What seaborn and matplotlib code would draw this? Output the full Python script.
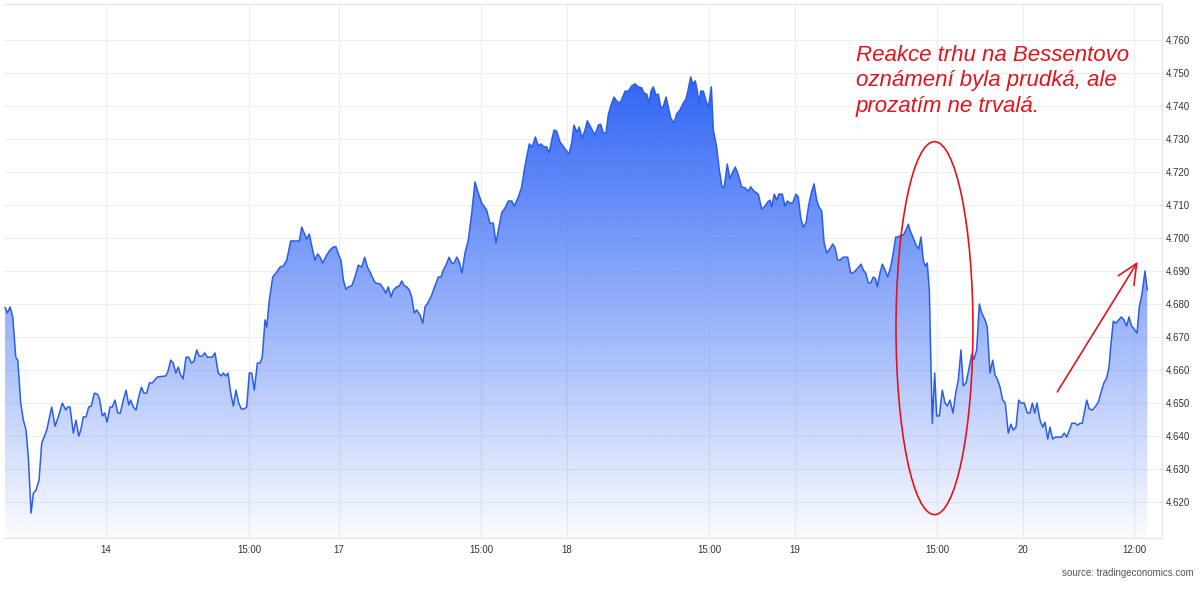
import numpy as np
import pandas as pd
import matplotlib
matplotlib.use("Agg")
import matplotlib.pyplot as plt
import seaborn as sns
from matplotlib.patches import Ellipse
from matplotlib.colors import to_rgb

# compressed trading time in hours (13th 00:00 = 0, weekend skipped) and price
hours = [
    13.58, 13.82, 14.11, 14.39, 14.71, 14.92, 15.23, 15.51, 15.79, 16.03,
    16.32, 16.56, 16.84, 17.16, 17.44, 17.97, 18.49, 18.84, 19.19, 19.61,
    19.97, 20.18, 20.42, 20.77, 21.05, 21.34, 21.55, 21.82, 22.11, 22.39,
    22.66, 22.98, 23.29, 23.51, 23.82, 24.07, 24.32, 24.63, 24.87, 25.16,
    25.44, 25.72, 26.03, 26.32, 26.60, 26.81, 27.08, 27.37, 27.65, 27.93,
    28.21, 28.49, 28.77, 29.08, 29.61, 30.49, 30.71, 31.02, 31.29, 31.55,
    31.82, 32.03, 32.32, 32.63, 32.92, 33.19, 33.47, 33.76, 34.03, 34.32,
    34.60, 34.87, 35.40, 35.68, 36.03, 36.35, 36.55, 36.84, 37.05, 37.34,
    37.61, 37.89, 38.18, 38.45, 38.74, 39.02, 39.29, 39.55, 39.82, 40.14,
    40.42, 40.66, 40.95, 41.13, 41.40, 41.76, 42.18, 42.53, 42.87, 43.23,
    43.65, 44.28, 44.56, 44.81, 45.08, 45.34, 45.61, 45.89, 46.21, 46.49,
    46.74, 47.02, 47.37, 47.79, 48.14, 48.42, 48.71, 48.95, 49.19, 49.47,
    49.72, 50.07, 50.42, 50.77, 51.13, 51.44, 51.72, 52.00, 52.28, 52.56,
    53.05, 53.40, 53.65, 53.93, 54.21, 54.45, 54.81, 55.08, 55.34, 55.61,
    55.86, 56.14, 56.39, 56.66, 56.92, 57.26, 57.55, 57.79, 58.14, 58.49,
    58.84, 59.19, 59.47, 59.72, 60.00, 60.32, 60.60, 60.84, 61.13, 61.40,
    61.68, 62.00, 62.35, 62.71, 63.05, 63.40, 63.76, 64.27, 64.63, 64.98,
    65.26, 65.51, 65.86, 66.21, 66.56, 66.92, 67.19, 67.61, 67.97, 68.24,
    68.49, 68.77, 69.08, 69.40, 69.72, 70.00, 70.32, 70.60, 70.87, 71.13,
    71.37, 71.65, 72.00, 72.53, 72.95, 73.23, 73.47, 73.76, 74.03, 74.32,
    74.63, 74.87, 75.23, 75.68, 76.03, 76.28, 76.56, 76.84, 77.08, 77.34,
    77.68, 77.97, 78.32, 78.60, 78.85, 79.19, 79.55, 79.89, 80.24, 80.60,
    80.84, 81.13, 81.37, 81.58, 81.82, 82.11, 82.35, 82.60, 82.87, 83.16,
    83.40, 83.65, 84.00, 84.28, 84.63, 84.98, 85.26, 85.51, 85.76, 85.96,
    86.24, 86.45, 86.63, 86.81, 87.08, 87.44, 87.65, 87.93, 88.14, 88.49,
    88.77, 89.05, 89.29, 89.61, 89.89, 90.18, 90.45, 90.77, 91.12, 91.47,
    91.82, 92.07, 92.42, 92.87, 93.23, 93.51, 93.86, 94.11, 94.28, 94.56,
    94.81, 95.05, 95.40, 95.68, 95.93, 96.21, 96.49, 96.84, 97.08, 97.34,
    97.61, 97.89, 98.18, 98.45, 98.74, 99.02, 99.26, 99.55, 99.79, 100.07,
    100.42, 100.71, 100.95, 101.23, 101.47, 101.82, 102.28, 102.60, 102.87, 103.16,
    103.44, 103.68, 103.93, 104.18, 104.45, 104.71, 104.98, 105.23, 105.40, 105.68,
    105.93, 106.21, 106.49, 106.81, 107.08, 107.34, 107.61, 107.89, 108.14, 108.42,
    108.66, 108.92, 109.19, 109.47, 109.76, 110.00, 110.24, 110.45, 110.66, 110.88,
    111.02, 111.19, 111.44, 111.65, 111.93, 112.24, 112.53, 112.77, 113.05, 113.37,
    113.65, 113.93, 114.21, 114.45, 114.74, 115.02, 115.34, 115.58, 115.86, 116.14,
    116.39, 116.74, 116.98, 117.26, 117.55, 117.79, 118.07, 118.32, 118.60, 118.87,
    119.19, 119.47, 119.72, 120.00, 120.28, 120.53, 120.87, 121.19, 121.47, 121.72,
    121.97, 122.21, 122.53, 122.81, 123.05, 123.34, 123.58, 123.86, 124.14, 124.45,
    124.81, 125.08, 125.34, 125.61, 125.89, 126.21, 126.49, 126.74, 126.98, 127.19,
    127.44, 127.72, 128.03, 128.32, 128.67, 129.02, 129.26, 129.55, 129.79, 129.97,
    130.24, 130.53, 130.81, 131.08, 131.37, 131.65, 131.89, 132.18, 132.45, 132.74,
    132.98, 133.26, 133.58, 133.82,
]
price = [
    4.6790, 4.6773, 4.6791, 4.6761, 4.6639, 4.6630, 4.6500, 4.6448, 4.6418, 4.6336,
    4.6167, 4.6227, 4.6236, 4.6267, 4.6379, 4.6418, 4.6488, 4.6430, 4.6458, 4.6500,
    4.6479, 4.6488, 4.6488, 4.6409, 4.6448, 4.6400, 4.6418, 4.6458, 4.6458, 4.6488,
    4.6491, 4.6530, 4.6527, 4.6515, 4.6461, 4.6470, 4.6442, 4.6488, 4.6488, 4.6509,
    4.6470, 4.6470, 4.6509, 4.6539, 4.6494, 4.6509, 4.6488, 4.6479, 4.6518, 4.6548,
    4.6530, 4.6530, 4.6561, 4.6561, 4.6579, 4.6582, 4.6594, 4.6630, 4.6621, 4.6591,
    4.6609, 4.6588, 4.6573, 4.6639, 4.6639, 4.6621, 4.6627, 4.6661, 4.6642, 4.6642,
    4.6652, 4.6639, 4.6639, 4.6652, 4.6591, 4.6582, 4.6591, 4.6582, 4.6591, 4.6530,
    4.6491, 4.6539, 4.6500, 4.6482, 4.6482, 4.6488, 4.6591, 4.6591, 4.6539, 4.6621,
    4.6621, 4.6639, 4.6752, 4.6730, 4.6812, 4.6882, 4.6897, 4.6912, 4.6915, 4.6933,
    4.6991, 4.6991, 4.6991, 4.7033, 4.7015, 4.6997, 4.7012, 4.6973, 4.6933, 4.6952,
    4.6942, 4.6924, 4.6945, 4.6964, 4.6973, 4.6973, 4.6948, 4.6933, 4.6873, 4.6845,
    4.6852, 4.6855, 4.6882, 4.6918, 4.6912, 4.6942, 4.6912, 4.6897, 4.6879, 4.6864,
    4.6861, 4.6848, 4.6833, 4.6852, 4.6821, 4.6842, 4.6852, 4.6855, 4.6870, 4.6855,
    4.6852, 4.6842, 4.6821, 4.6773, 4.6782, 4.6767, 4.6742, 4.6791, 4.6806, 4.6827,
    4.6855, 4.6882, 4.6882, 4.6903, 4.6918, 4.6942, 4.6924, 4.6924, 4.6942, 4.6927,
    4.6894, 4.6955, 4.6994, 4.7076, 4.7170, 4.7136, 4.7106, 4.7085, 4.7045, 4.7045,
    4.6985, 4.7024, 4.7076, 4.7091, 4.7112, 4.7112, 4.7097, 4.7124, 4.7155, 4.7206,
    4.7245, 4.7285, 4.7276, 4.7306, 4.7279, 4.7285, 4.7276, 4.7276, 4.7258, 4.7297,
    4.7327, 4.7324, 4.7291, 4.7270, 4.7255, 4.7288, 4.7342, 4.7321, 4.7336, 4.7303,
    4.7327, 4.7355, 4.7336, 4.7312, 4.7342, 4.7345, 4.7318, 4.7318, 4.7373, 4.7400,
    4.7427, 4.7415, 4.7409, 4.7427, 4.7445, 4.7445, 4.7461, 4.7467, 4.7458, 4.7455,
    4.7439, 4.7436, 4.7409, 4.7445, 4.7458, 4.7433, 4.7436, 4.7397, 4.7397, 4.7427,
    4.7397, 4.7364, 4.7348, 4.7376, 4.7388, 4.7409, 4.7421, 4.7452, 4.7488, 4.7467,
    4.7476, 4.7445, 4.7409, 4.7445, 4.7445, 4.7409, 4.7400, 4.7458, 4.7327, 4.7276,
    4.7206, 4.7155, 4.7155, 4.7224, 4.7179, 4.7200, 4.7215, 4.7191, 4.7155, 4.7152,
    4.7142, 4.7155, 4.7142, 4.7133, 4.7088, 4.7094, 4.7109, 4.7115, 4.7094, 4.7133,
    4.7115, 4.7133, 4.7133, 4.7097, 4.7112, 4.7106, 4.7106, 4.7133, 4.7124, 4.7061,
    4.7033, 4.7045, 4.7100, 4.7136, 4.7164, 4.7115, 4.7094, 4.7082, 4.6988, 4.6955,
    4.6967, 4.6982, 4.6970, 4.6933, 4.6933, 4.6942, 4.6942, 4.6894, 4.6894, 4.6903,
    4.6912, 4.6921, 4.6903, 4.6894, 4.6864, 4.6864, 4.6882, 4.6876, 4.6852, 4.6894,
    4.6921, 4.6903, 4.6882, 4.6912, 4.6955, 4.7003, 4.7003, 4.7009, 4.7009, 4.7024,
    4.7042, 4.7018, 4.7000, 4.6979, 4.6967, 4.7003, 4.6933, 4.6915, 4.6924, 4.6842,
    4.6652, 4.6439, 4.6591, 4.6461, 4.6461, 4.6539, 4.6500, 4.6491, 4.6509, 4.6470,
    4.6530, 4.6570, 4.6661, 4.6552, 4.6561, 4.6600, 4.6648, 4.6633, 4.6661, 4.6800,
    4.6773, 4.6752, 4.6730, 4.6591, 4.6630, 4.6585, 4.6570, 4.6548, 4.6509, 4.6500,
    4.6409, 4.6436, 4.6418, 4.6427, 4.6509, 4.6500, 4.6500, 4.6470, 4.6470, 4.6500,
    4.6470, 4.6500, 4.6448, 4.6427, 4.6442, 4.6391, 4.6427, 4.6391, 4.6397, 4.6397,
    4.6397, 4.6409, 4.6397, 4.6418, 4.6439, 4.6439, 4.6433, 4.6439, 4.6439, 4.6470,
    4.6509, 4.6482, 4.6479, 4.6488, 4.6503, 4.6539, 4.6561, 4.6576, 4.6609, 4.6670,
    4.6748, 4.6742, 4.6752, 4.6761, 4.6752, 4.6733, 4.6761, 4.6733, 4.6724, 4.6712,
    4.6791, 4.6830, 4.6900, 4.6842,
]

tick_hours = [24.18, 39.31, 48.71, 63.68, 72.74, 87.68, 96.69, 111.68, 120.74, 132.47]
tick_labels = ["14", "15:00", "17", "15:00", "18", "15:00", "19", "15:00", "20", "12:00"]
y_ticks = [4.62, 4.63, 4.64, 4.65, 4.66, 4.67, 4.68, 4.69, 4.70,
           4.71, 4.72, 4.73, 4.74, 4.75, 4.76]

note = "Reakce trhu na Bessentovo\noznámení byla prudká, ale\nprozatím ne trvalá."
source = "source: tradingeconomics.com"

# circled drop (center hour, center price, width in hours, height in price)
drop_circle = (111.42, 4.6727, 8.1, 0.1130)
# arrow showing the rebound (from, to)
arrow_from = (124.35, 4.6534)
arrow_to = (132.81, 4.6928)

df = pd.DataFrame({"hours": hours, "price": price})

sns.set_theme(style="white")
plt.rcParams["font.family"] = ["Liberation Sans", "DejaVu Sans"]

red = "#e3131b"
blue = "#2f64f5"

fig = plt.figure(figsize=(12, 5.94), dpi=100)
ax = fig.add_axes([4 / 1200, 1 - 538.4 / 594, 1158 / 1200, 534.4 / 594])

x_lo, x_hi = 13.47, 135.37
y_lo, y_hi = 4.6090, 4.7709

# gradient area under the line
grad = np.zeros((256, 1, 4))
grad[..., :3] = to_rgb(blue)
grad[:, 0, 3] = np.linspace(0.02, 1.0, 256)
im = ax.imshow(grad, extent=[df.hours.min(), df.hours.max(), y_lo, df.price.max()],
               origin="lower", aspect="auto", zorder=1, interpolation="bilinear")
poly = ax.fill_between(df.hours, df.price, y_lo, facecolor="none", edgecolor="none")
im.set_clip_path(poly.get_paths()[0], transform=ax.transData)

sns.lineplot(data=df, x="hours", y="price", ax=ax, color="#2a5de9",
             linewidth=1.1, estimator=None, zorder=3)

ax.set_xlim(x_lo, x_hi)
ax.set_ylim(y_lo, y_hi)
ax.set_xticks(tick_hours, tick_labels)
ax.set_yticks(y_ticks)
ax.yaxis.set_major_formatter("{x:.3f}")
ax.yaxis.tick_right()
ax.set_xlabel("")
ax.set_ylabel("")
ax.grid(True, color="#eceef2", linewidth=0.8)
ax.set_axisbelow(True)
ax.tick_params(axis="y", length=0, pad=2.5, labelsize=7, colors="#333333")
ax.tick_params(axis="x", length=0, pad=4.5, labelsize=7, colors="#333333")
ax.spines["left"].set_visible(False)
for side in ["top", "right", "bottom"]:
    ax.spines[side].set_color("#e3e3e3")
    ax.spines[side].set_linewidth(0.8)

# annotations
ax.add_patch(Ellipse(drop_circle[:2], drop_circle[2], drop_circle[3],
                     fill=False, edgecolor=red, linewidth=1.2, zorder=5))
ax.annotate("", xy=arrow_to, xytext=arrow_from,
            arrowprops=dict(arrowstyle="->,head_length=1.2,head_width=0.55",
                            color=red, lw=1.2, shrinkA=0, shrinkB=0),
            zorder=5)

fig.text(856 / 1200, 1 - 45 / 594, note, color=red, fontsize=16, style="italic",
         ha="left", va="top", linespacing=1.28)
fig.text(1194 / 1200, 1 - 573 / 594, source, color="#555555", fontsize=7,
         ha="right", va="center")

fig.savefig("out.png", dpi=100)
